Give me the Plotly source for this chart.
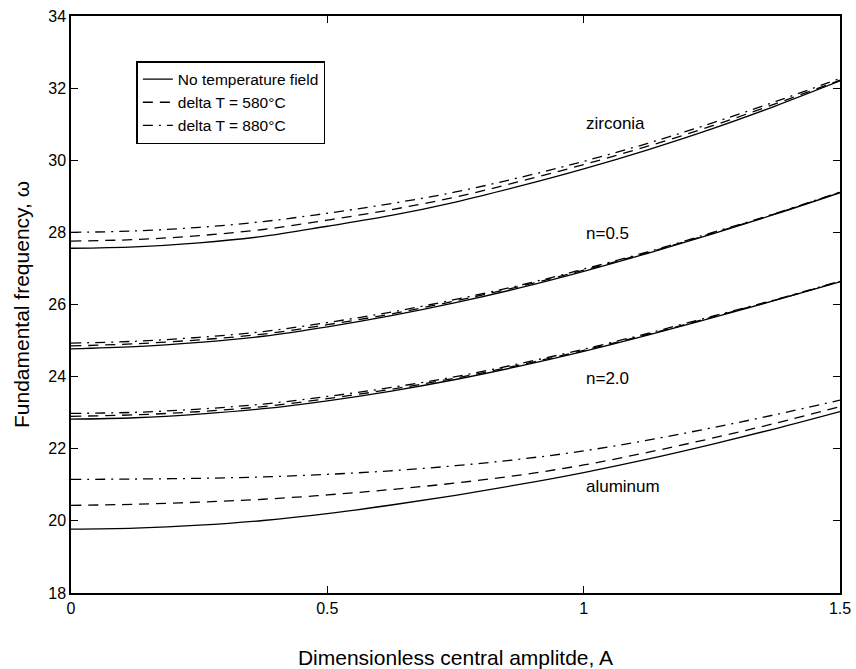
import plotly.graph_objects as go

amplitude = [0.0, 0.125, 0.25, 0.375, 0.5, 0.625, 0.75, 0.875, 1.0, 1.125, 1.25, 1.375, 1.5]

# zirconia
zr_none = [27.56, 27.60, 27.71, 27.89, 28.17, 28.47, 28.84, 29.28, 29.76, 30.29, 30.87, 31.51, 32.20]
zr_580 = [27.76, 27.80, 27.91, 28.08, 28.34, 28.63, 28.98, 29.41, 29.88, 30.39, 30.95, 31.57, 32.22]
zr_880 = [28.00, 28.04, 28.14, 28.30, 28.53, 28.80, 29.12, 29.52, 29.97, 30.47, 31.03, 31.63, 32.27]
# n = 0.5
n05_none = [24.77, 24.83, 24.95, 25.12, 25.38, 25.69, 26.05, 26.46, 26.92, 27.42, 27.95, 28.51, 29.10]
n05_580 = [24.85, 24.91, 25.02, 25.18, 25.44, 25.74, 26.10, 26.50, 26.95, 27.44, 27.97, 28.52, 29.11]
n05_880 = [24.93, 24.98, 25.09, 25.25, 25.50, 25.79, 26.14, 26.53, 26.98, 27.46, 27.99, 28.53, 29.12]
# n = 2.0
n20_none = [22.82, 22.86, 22.96, 23.11, 23.33, 23.60, 23.92, 24.29, 24.70, 25.15, 25.63, 26.12, 26.63]
n20_580 = [22.90, 22.94, 23.03, 23.17, 23.39, 23.65, 23.96, 24.32, 24.73, 25.17, 25.65, 26.13, 26.64]
n20_880 = [22.98, 23.01, 23.10, 23.24, 23.45, 23.70, 24.00, 24.36, 24.76, 25.20, 25.67, 26.14, 26.65]
# aluminum
al_none = [19.77, 19.80, 19.88, 20.01, 20.20, 20.44, 20.71, 21.01, 21.34, 21.71, 22.12, 22.56, 23.03]
al_580 = [20.43, 20.46, 20.52, 20.60, 20.72, 20.87, 21.05, 21.27, 21.55, 21.90, 22.29, 22.71, 23.17]
al_880 = [21.15, 21.16, 21.18, 21.22, 21.29, 21.39, 21.53, 21.71, 21.94, 22.24, 22.58, 22.95, 23.35]

legend_names = ["No temperature field", "delta T = 580\u00b0C", "delta T = 880\u00b0C"]
material_labels = ["zirconia", "n=0.5", "n=2.0", "aluminum"]
label_x = [1.0, 1.0, 1.0, 1.0]
label_y = [31.02, 27.98, 23.96, 20.94]

x_ticks = [0, 0.5, 1, 1.5]
x_ticktext = ["0", "0.5", "1", "1.5"]
y_ticks = [18, 20, 22, 24, 26, 28, 30, 32, 34]

groups = [
    (zr_none, zr_580, zr_880),
    (n05_none, n05_580, n05_880),
    (n20_none, n20_580, n20_880),
    (al_none, al_580, al_880),
]
dashes = ["solid", "10px,7px", "10px,6px,2px,6px"]

fig = go.Figure()
for gi, grp in enumerate(groups):
    for si, ys in enumerate(grp):
        fig.add_trace(go.Scatter(
            x=amplitude, y=ys, mode="lines",
            line=dict(color="black", width=1.3, dash=dashes[si], shape="spline", smoothing=1.0),
            name=legend_names[si], showlegend=(gi == 0),
        ))

for t, xx, yy in zip(material_labels, label_x, label_y):
    fig.add_annotation(x=xx, y=yy, text=t, showarrow=False, xanchor="left", yanchor="middle",
                       font=dict(size=17, color="black"))

fig.update_layout(
    width=856, height=669,
    margin=dict(l=71, r=16, t=16, b=76),
    paper_bgcolor="white", plot_bgcolor="white",
    font=dict(family="Liberation Sans, Arial, sans-serif", color="black", size=16),
    legend=dict(x=0.085, y=0.922, xanchor="left", yanchor="top",
                bordercolor="black", borderwidth=1.5, bgcolor="white",
                font=dict(size=15.5), tracegroupgap=0, itemwidth=30),
    showlegend=True,
)
fig.update_xaxes(range=[0, 1.5], tickvals=x_ticks, ticktext=x_ticktext,
                 ticks="inside", ticklen=7, tickwidth=1, tickcolor="black",
                 showline=True, linecolor="black", linewidth=1.5, mirror="ticks",
                 showgrid=False, zeroline=False, automargin=False,
                 title=dict(text="Dimensionless central amplitde, A", font=dict(size=21), standoff=34),
                 tickfont=dict(size=16))
fig.update_yaxes(range=[18, 34], tickvals=y_ticks,
                 ticks="inside", ticklen=7, tickwidth=1, tickcolor="black",
                 showline=True, linecolor="black", linewidth=1.5, mirror="ticks",
                 showgrid=False, zeroline=False, automargin=False,
                 title=dict(text="Fundamental frequency, \u03c9", font=dict(size=21), standoff=13),
                 tickfont=dict(size=16))

fig.write_html("out.html")
